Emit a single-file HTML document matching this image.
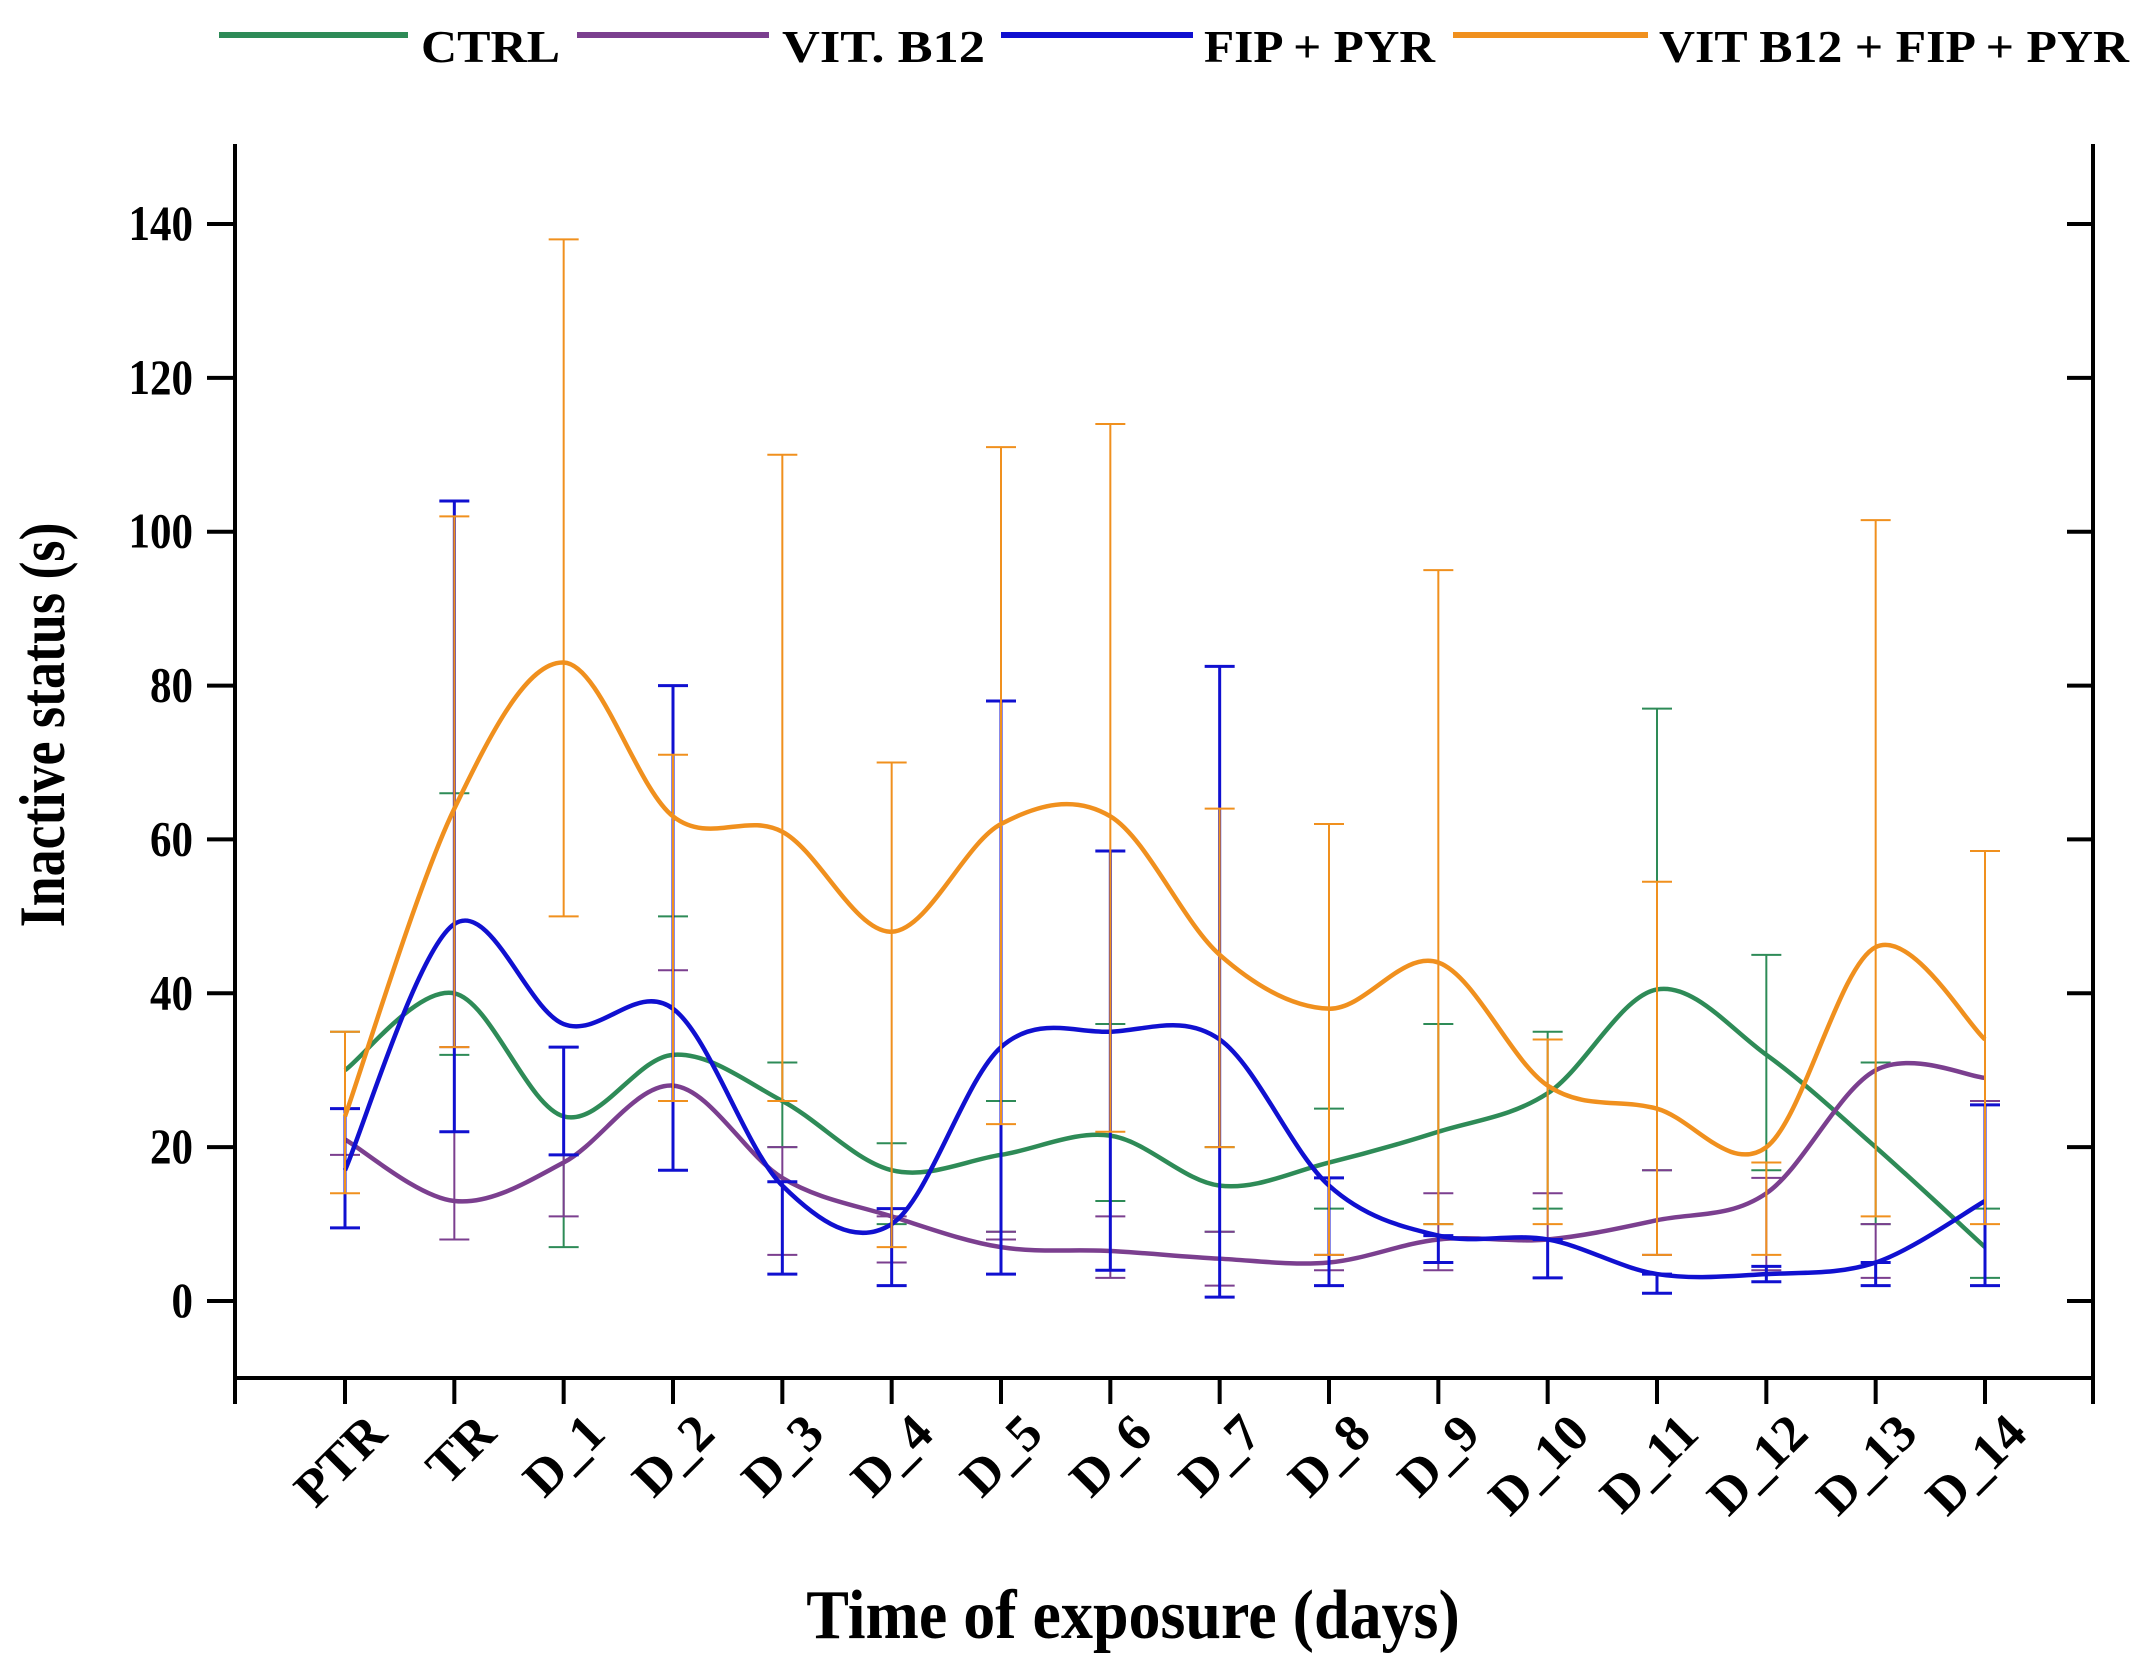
<!DOCTYPE html>
<html><head><meta charset="utf-8"><style>
html,body{margin:0;padding:0;background:#fff}
svg{display:block}
text{font-family:"Liberation Serif",serif;font-weight:bold;fill:#000}
</style></head><body>
<svg id="chart" width="2145" height="1678" viewBox="0 0 2145 1678" xmlns="http://www.w3.org/2000/svg">
<g id="legend"></g>
<g id="axes"></g>
<g id="series"></g>
<text transform="translate(64,725) rotate(-90) scale(1,1.2)" text-anchor="middle" font-size="54">Inactive status (s)</text>
<text transform="translate(1133,1638) scale(1,1.1)" text-anchor="middle" font-size="64">Time of exposure (days)</text>
</svg>
<script>
const categories = ["PTR","TR","D_1","D_2","D_3","D_4","D_5","D_6","D_7","D_8","D_9","D_10","D_11","D_12","D_13","D_14"];
const yTicks = [0,20,40,60,80,100,120,140];
const seriesNames = ["CTRL","VIT. B12","FIP + PYR","VIT B12 + FIP + PYR"];
const ctrlMean = [30,40,24,32,26,17,19,21.5,15,18,22,27,40.5,32,20,7];
const ctrlLo = [25,32,7,26,20,10,9,13,9,12,10,12,17,17,10,3];
const ctrlHi = [35,66,33,50,31,20.5,26,36,20,25,36,35,77,45,31,12];
const b12Mean = [21,13,18,28,16,11,7,6.5,5.5,5,8,8,10.5,14,30,29];
const b12Lo = [19,8,11,26,6,5,8,3,2,4,4,3,6,4,3,2];
const b12Hi = [25,33,19,43,20,11,9,11,9,6,14,14,17,16,10,26];
const fipMean = [17,49,36,38,15,10,33,35,34,15,8.5,8,3.5,3.5,5,13];
const fipLo = [9.5,22,19,17,3.5,2,3.5,4,0.5,2,5,3,1,2.5,2,2];
const fipHi = [25,104,33,80,15.5,12,78,58.5,82.5,16,8.5,8,3.5,4.5,5,25.5];
const allMean = [24,64,83,63,61,48,62,63,45,38,44,28,25,20,46,34];
const allLo = [14,33,50,26,26,7,23,22,20,6,10,10,6,6,11,10];
const allHi = [35,102,138,71,110,70,111,114,64,62,95,34,54.5,18,101.5,58.5];

const NS="http://www.w3.org/2000/svg";
const L=235,R=2093,T=144,B=1378;
const X=i=>345+i*(1985-345)/15;
const Y=v=>1301-v*(1301-224)/140;
function mk(tag,attrs,parent){const e=document.createElementNS(NS,tag);for(const k in attrs)e.setAttribute(k,attrs[k]);parent.appendChild(e);return e;}
const axes=document.getElementById('axes');
const ser=document.getElementById('series');
const leg=document.getElementById('legend');

let fr=mk('path',{d:`M${L},${T}V${B}H${R}V${T}`,fill:'none',stroke:'#000','stroke-width':4},axes);


yTicks.forEach(v=>{
  const y=Y(v);
  let t=mk('line',{x1:L-28,x2:L,y1:y,y2:y,stroke:'#000','stroke-width':4},axes);
  
  
  let t2=mk('line',{x1:R-26,x2:R,y1:y,y2:y,stroke:'#000','stroke-width':4},axes);
  
  
  let lb=mk('text',{transform:`translate(${L-42},${y+16}) scale(1,1.15)`,'text-anchor':'end','font-size':43},axes);
  lb.textContent=v;
  
  
});
[L,R].forEach(x=>{let t=mk('line',{x1:x,x2:x,y1:B,y2:B+26,stroke:'#000','stroke-width':4},axes);
  
  });
categories.forEach((c,i)=>{
  const x=X(i);
  let t=mk('line',{x1:x,x2:x,y1:B,y2:B+26,stroke:'#000','stroke-width':4},axes);
  
  
  let lb=mk('text',{transform:`translate(${x+44},${B+58}) rotate(-45)`,'text-anchor':'end','font-size':52},axes);
  lb.textContent=c;
  
  
});

function smooth(vals){
  const p=vals.map((v,i)=>[X(i),Y(v)]);
  let d=`M${p[0][0]},${p[0][1]}`;
  for(let i=0;i<p.length-1;i++){
    const p0=p[i-1]||p[i],p1=p[i],p2=p[i+1],p3=p[i+2]||p2;
    const c1=[p1[0]+(p2[0]-p0[0])/6,p1[1]+(p2[1]-p0[1])/6];
    const c2=[p2[0]-(p3[0]-p1[0])/6,p2[1]-(p3[1]-p1[1])/6];
    d+=`C${c1[0]},${c1[1]} ${c2[0]},${c2[1]} ${p2[0]},${p2[1]}`;
  }
  return d;
}
const seriesData=[
 {name:'ctrl',color:'#2e8b57',m:ctrlMean,lo:ctrlLo,hi:ctrlHi,ew:2},
 {name:'vit-b12',color:'#7b3f8f',m:b12Mean,lo:b12Lo,hi:b12Hi,ew:2},
 {name:'fip-pyr',color:'#1010d0',m:fipMean,lo:fipLo,hi:fipHi,ew:3},
 {name:'vit-b12-fip-pyr',color:'#f0901e',m:allMean,lo:allLo,hi:allHi,ew:2}
];
seriesData.forEach(s=>{
  const g=mk('g',{},ser);
  
  
  s.m.forEach((v,i)=>{
    const x=X(i),y1=Y(s.lo[i]),y2=Y(s.hi[i]);
    let e=mk('path',{d:`M${x},${y1}V${y2}M${x-15},${y1}H${x+15}M${x-15},${y2}H${x+15}`,stroke:s.color,'stroke-width':s.ew,fill:'none'},g);
    
    
  });
  let ln=mk('path',{d:smooth(s.m),fill:'none',stroke:s.color,'stroke-width':4.5},g);
  
  
});
const legPos=[[219,408,421,139],[577,769,782,203],[1001,1193,1204,231],[1453,1648,1659,470]];
seriesData.forEach((s,i)=>{
  const [a,b,tx,tw]=legPos[i];
  const g=mk('g',{},leg);
  
  
  mk('line',{x1:a,x2:b,y1:35,y2:35,stroke:s.color,'stroke-width':6},g);
  let t=mk('text',{x:tx,y:62,'font-size':46,textLength:tw,lengthAdjust:'spacingAndGlyphs'},g);
  t.textContent=seriesNames[i];
});
</script>
</body></html>
